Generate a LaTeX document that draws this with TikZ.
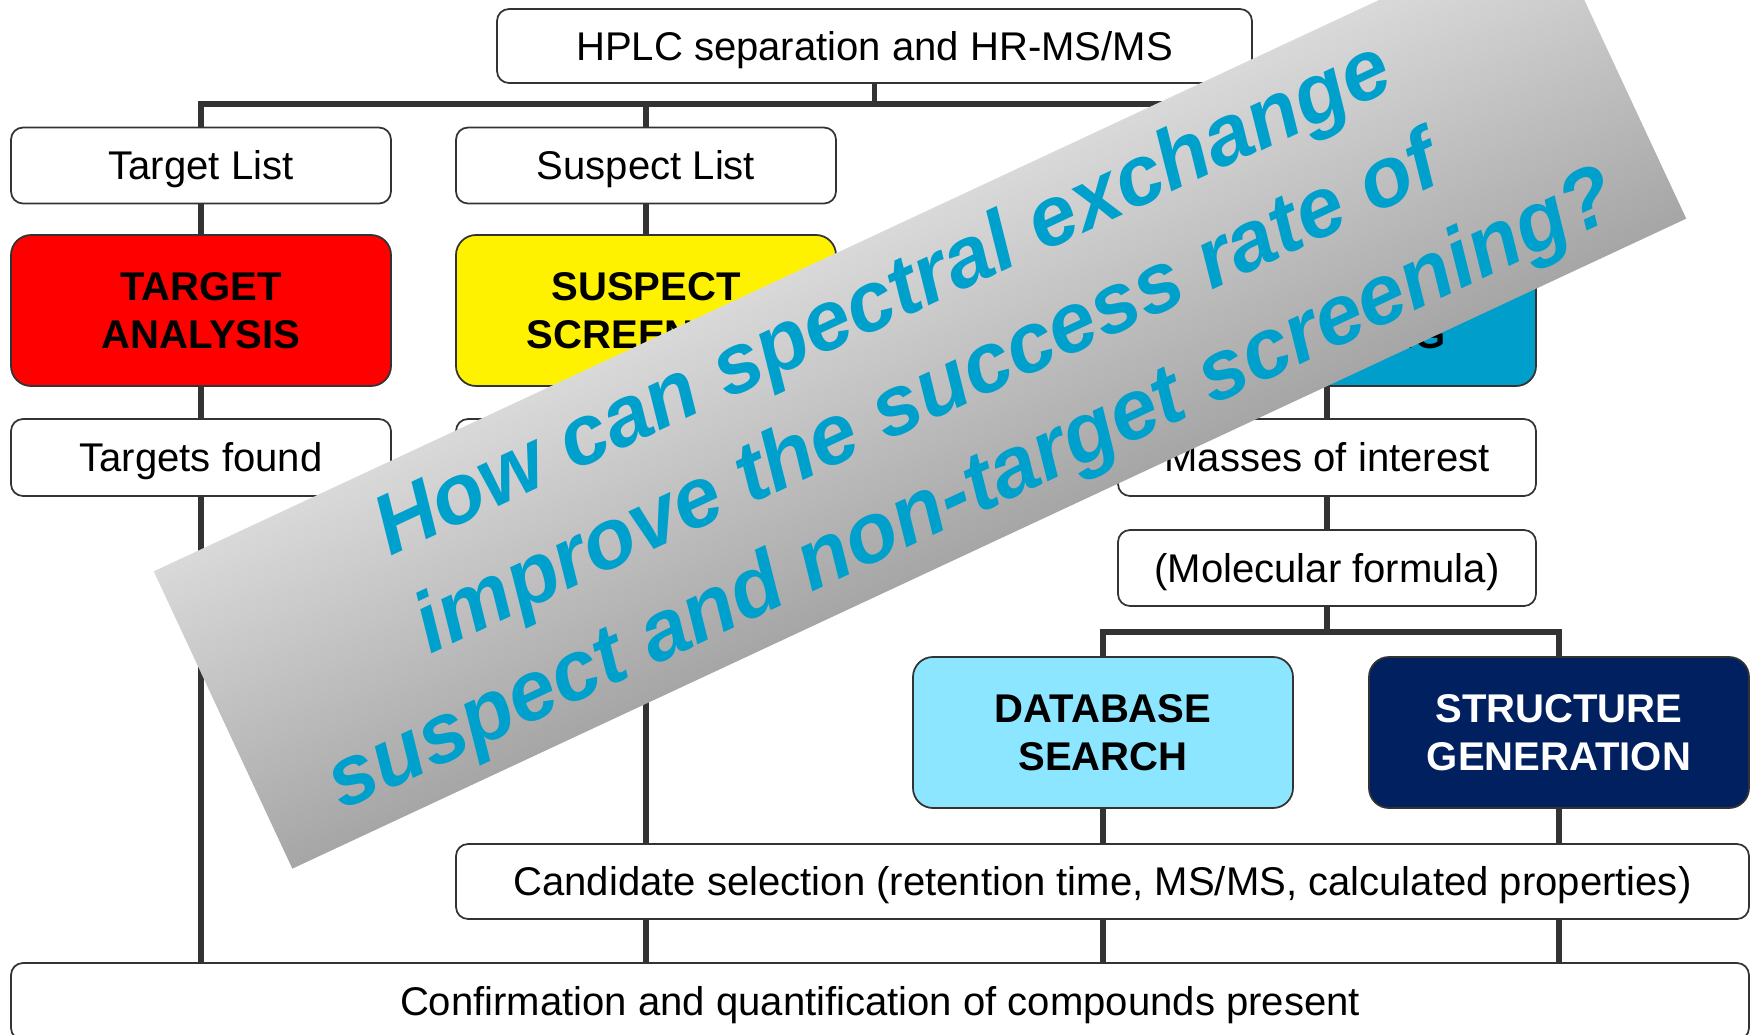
\documentclass[tikz,border=0pt]{standalone}
\usepackage{fontspec}
\setmainfont{Liberation Sans}
\usepackage{tikz}
\definecolor{linegray}{RGB}{51,51,51}
\definecolor{ntblue}{RGB}{0,158,203}
\definecolor{dbcyan}{RGB}{140,230,255}
\definecolor{sgnavy}{RGB}{0,32,96}
\definecolor{qblue}{RGB}{0,160,204}
\newcommand{\boxfont}{\fontsize{11.4pt}{13.6pt}\selectfont}
\newcommand{\bannerfont}{\fontsize{24.1pt}{29.9pt}\selectfont\bfseries\itshape}

\begin{document}
\begin{tikzpicture}[x=0.1mm, y=-0.1mm,
	box/.style={draw=linegray, line width=0.5pt, fill=white, rounded corners=1.2mm, inner sep=0pt, minimum width=38mm, minimum height=7.6mm, font=\boxfont, text height=8.1pt, text depth=0pt},
	stage/.style={draw=linegray, line width=0.5pt, rounded corners=2mm, inner sep=0pt, minimum width=38mm, minimum height=15.1mm, font=\boxfont\bfseries, align=center},
	link/.style={draw=linegray, line width=1.45pt}]
	\useasboundingbox (0,0) rectangle (1752,1035);
	\clip (0,0) rectangle (1752,1035);
	%Top
	\node [box, minimum width=75.5mm, minimum height=7.4mm] (hplc) at (874.5,46) {HPLC separation and HR-MS/MS};
	\coordinate (bus1) at (874.5,104);
	%Lists
	\node [box] (tlist) at (201,165.5) {Target List};
	\node [box] (slist) at (646,165.5) {Suspect List};
	%Screening
	\node [stage, fill=red] (tana) at (201,310.5) {TARGET\\ANALYSIS};
	\node [stage, fill=yellow] (sscr) at (646,310.5) {SUSPECT\\SCREENING};
	\node [stage, fill=ntblue, minimum width=41.8mm] (nscr) at (1327,310.5) {NON-TARGET\\SCREENING};
	%Found
	\node [box, minimum height=7.7mm] (tfound) at (201,457.5) {Targets found};
	\node [box, minimum height=7.7mm] (sfound) at (646,457.5) {};
	\node [box, minimum width=41.8mm, minimum height=7.7mm] (masses) at (1327,457.5) {Masses of interest};
	\node [box, minimum width=41.8mm] (formula) at (1327,568) {(Molecular formula)};
	\coordinate (bus2) at (1327,632);
	%Identification
	\node [stage, fill=dbcyan] (dbase) at (1103,732.5) {DATABASE\\SEARCH};
	\node [stage, fill=sgnavy, text=white] (sgen) at (1559,732.5) {STRUCTURE\\GENERATION};
	\node [box, minimum width=129.3mm, minimum height=7.5mm] (cand) at (1102.5,881.5) {Candidate selection (retention time, MS/MS, calculated properties)};
	\node [box, minimum width=173.8mm, minimum height=7.7mm] (confirm) at (880,1001.5) {Confirmation and quantification of compounds present};
	%Links top
	\draw [link] (hplc.south) -- (bus1);
	\draw [link] (tlist.north) |- (nscr.north |- bus1) -- (nscr.north);
	\draw [link] (slist.north) -- (slist.north |- bus1);
	%Links target
	\draw [link] (tlist.south) -- (tana.north);
	\draw [link] (tana.south) -- (tfound.north);
	\draw [link] (tfound.south) -- (tfound.south |- confirm.north);
	%Links suspect
	\draw [link] (slist.south) -- (sscr.north);
	\draw [link] (sscr.south) -- (sfound.north);
	\draw [link] (sfound.south) -- (sfound.south |- cand.north);
	\draw [link] (sfound.south |- cand.south) -- (sfound.south |- confirm.north);
	%Links non-target
	\draw [link] (nscr.south) -- (masses.north);
	\draw [link] (masses.south) -- (formula.north);
	\draw [link] (formula.south) -- (bus2);
	\draw [link] (dbase.north) |- (sgen.north |- bus2) -- (sgen.north);
	\draw [link] (dbase.south) -- (dbase.south |- cand.north);
	\draw [link] (sgen.south) -- (sgen.south |- cand.north);
	\draw [link] (dbase.south |- cand.south) -- (dbase.south |- confirm.north);
	\draw [link] (sgen.south |- cand.south) -- (sgen.south |- confirm.north);
	%Question
	\begin{scope}[transform canvas={rotate around={25:(920,395)}}]
		\shade [top color=gray!30, bottom color=gray!70] (151,231) rectangle (1689,559);
		\node [font=\bannerfont, text=qblue, align=center] (q) at (927,401) {How can spectral exchange\\improve the success rate of\\suspect and non-target screening?};
	\end{scope}
\end{tikzpicture}
\end{document}
